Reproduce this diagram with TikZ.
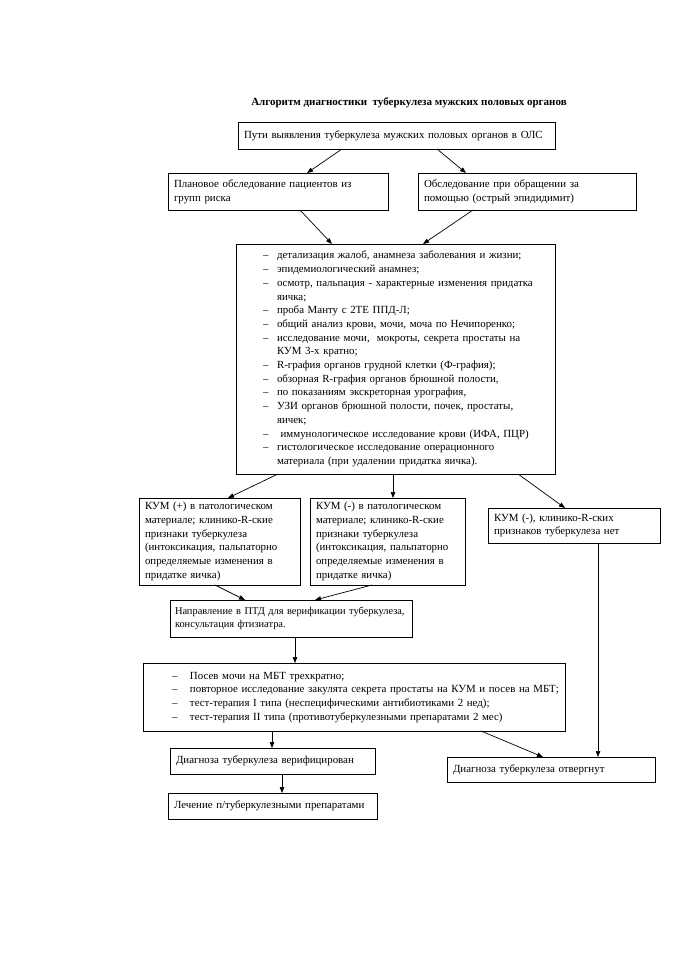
\documentclass[tikz,border=0pt]{standalone}
\usepackage{fontspec}
\setmainfont{Liberation Serif}
\usetikzlibrary{arrows.meta,calc}
\newcommand{\fs}{\fontsize{10.9}{13.7}\selectfont}
\tikzset{
  box/.style={draw, line width=0.9pt, anchor=north west, align=left, inner xsep=6pt, inner ysep=0pt, outer sep=0pt, font=\fs},
  arr/.style={line width=0.7pt, -{Triangle[length=6pt,width=4.5pt]}},
  conn/.style={line width=0.7pt},
  titlestyle/.style={font=\fontsize{11}{13}\selectfont\bfseries, inner sep=0pt},
}
\begin{document}
\begin{tikzpicture}[x=1pt,y=-1pt]
\useasboundingbox (0,0) rectangle (678,960);

\node[titlestyle] (title) at (409,103) {Алгоритм диагностики\ \ туберкулеза мужских половых органов};

\node[box, text width=305pt, minimum height=27pt] (b1) at (238,122) {Пути выявления туберкулеза мужских половых органов в ОЛС};

\node[box, text width=208pt, minimum height=37pt] (b2l) at (168,173) {Плановое обследование пациентов из\\групп риска};
\node[box, text width=206pt, minimum height=37pt] (b2r) at (418,173) {Обследование при обращении за\\помощью (острый эпидидимит)};

\node[box, text width=307pt, minimum height=230pt] (big) at (236,244) {\hspace*{21pt}\begin{tabular}{@{}p{14pt}@{}l@{}}
– & детализация жалоб, анамнеза заболевания и жизни;\\
– & эпидемиологический анамнез;\\
– & осмотр, пальпация - характерные изменения придатка\\
  & яичка;\\
– & проба Манту с 2ТЕ ППД-Л;\\
– & общий анализ крови, мочи, моча по Нечипоренко;\\
– & исследование мочи,\ \ мокроты, секрета простаты на\\
  & КУМ 3-х кратно;\\
– & R-графия органов грудной клетки (Ф-графия);\\
– & обзорная R-графия органов брюшной полости,\\
– & по показаниям экскреторная урография,\\
– & УЗИ органов брюшной полости, почек, простаты,\\
  & яичек;\\
– & \ иммунологическое исследование крови (ИФА, ПЦР)\\
– & гистологическое исследование операционного\\
  & материала (при удалении придатка яичка).
\end{tabular}};

\node[box, text width=149pt, minimum height=87pt] (b3a) at (139,498) {КУМ (+) в патологическом\\материале; клинико-R-ские\\признаки туберкулеза\\(интоксикация, пальпаторно\\определяемые изменения в\\придатке яичка)};
\node[box, text width=143pt, minimum height=87pt] (b3b) at (310,498) {КУМ (-) в патологическом\\материале; клинико-R-ские\\признаки туберкулеза\\(интоксикация, пальпаторно\\определяемые изменения в\\придатке яичка)};
\node[box, text width=160pt, minimum height=35pt] (b3c) at (488,508) {КУМ (-), клинико-R-ских\\признаков туберкулеза нет};

\node[box, inner xsep=5pt, text width=232pt, minimum height=37pt, font=\fontsize{10.4}{13.7}\selectfont] (b4) at (170,600) {Направление в ПТД для верификации туберкулеза,\\консультация фтизиатра.};

\node[box, text width=410pt, minimum height=68pt] (b5) at (143,663) {\hspace*{23pt}\begin{tabular}{@{}p{18pt}@{}l@{}}
– & Посев мочи на МБТ трехкратно;\\
– & повторное исследование закулята секрета простаты на КУМ и посев на МБТ;\\
– & тест-терапия I типа (неспецифическими антибиотиками 2 нед);\\
– & тест-терапия II типа (противотуберкулезными препаратами 2 мес)
\end{tabular}};

\node[box, text width=193pt, minimum height=26pt] (b6) at (170,748) {Диагноза туберкулеза верифицирован};
\node[box, text width=196pt, minimum height=25pt] (b7) at (447,757) {Диагноза туберкулеза отвергнут};
\node[box, text width=197pt, minimum height=26pt] (b8) at (168,793) {Лечение п/туберкулезными препаратами};

% connectors
\draw[arr] ([xshift=104pt]b1.south west) -- ([xshift=139pt]b2l.north west);
\draw[arr] ([xshift=199pt]b1.south west) -- ([xshift=48pt]b2r.north west);
\draw[arr] ([xshift=132pt]b2l.south west) -- ([xshift=96pt]big.north west);
\draw[arr] ([xshift=55pt]b2r.south west) -- ([xshift=187pt]big.north west);
\draw[arr] ([xshift=42pt]big.south west) -- ([xshift=89pt]b3a.north west);
\draw[arr] ([xshift=157pt]big.south west) -- ([xshift=83pt]b3b.north west);
\draw[arr] ([xshift=282pt]big.south west) -- ([xshift=77pt]b3c.north west);
\draw[arr] ([xshift=76pt]b3a.south west) -- ([xshift=75pt]b4.north west);
\draw[arr] ([xshift=62pt]b3b.south west) -- ([xshift=145pt]b4.north west);
\draw[arr] ([xshift=125pt]b4.south west) -- ([xshift=152pt]b5.north west);
\draw[arr] ([xshift=110pt]b3c.south west) -- ([xshift=151pt]b7.north west);
\draw[arr] ([xshift=338pt]b5.south west) -- ([xshift=96pt]b7.north west);
\draw[arr] ([xshift=129pt]b5.south west) -- ([xshift=102pt]b6.north west);
\draw[arr] ([xshift=112pt]b6.south west) -- ([xshift=114pt]b8.north west);
\end{tikzpicture}
\end{document}
